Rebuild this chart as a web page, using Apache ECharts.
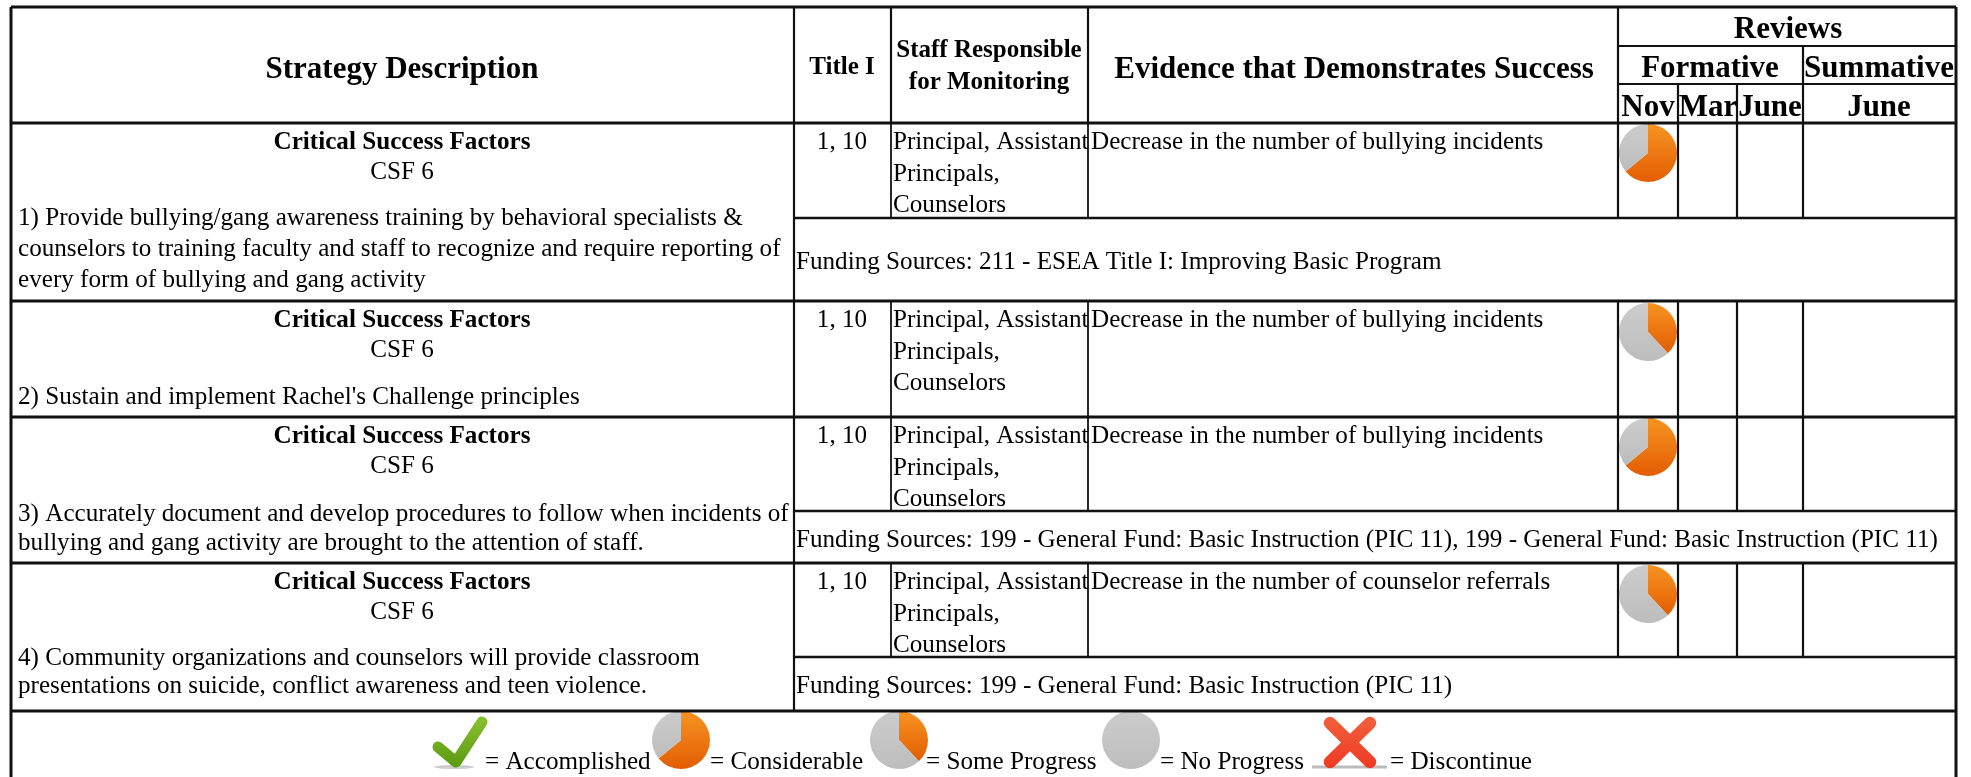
<!DOCTYPE html>
<html><head><meta charset="utf-8"><style>html,body{margin:0;padding:0;background:#fff}#c{width:1971px;height:777px;filter:blur(0.45px)}</style>
<script src="https://cdn.jsdelivr.net/npm/echarts@6/dist/echarts.min.js"></script></head>
<body><div id="c"></div><script>
// ---- content ----
const headerStrategy = "Strategy Description";
const headerTitle = "Title I";
const headerStaff = ["Staff Responsible", "for Monitoring"];
const headerEvidence = "Evidence that Demonstrates Success";
const headerReviews = "Reviews";
const headerFormative = "Formative";
const headerSummative = "Summative";
const headerMonths = ["Nov", "Mar", "June", "June"];
const csfTitle = "Critical Success Factors";
const csfCodes = ["CSF 6", "CSF 6", "CSF 6", "CSF 6"];
const strategies = [
  ["1) Provide bullying/gang awareness training by behavioral specialists &", "counselors to training faculty and staff to recognize and require reporting of", "every form of bullying and gang activity"],
  ["2) Sustain and implement Rachel's Challenge principles"],
  ["3) Accurately document and develop procedures to follow when incidents of", "bullying and gang activity are brought to the attention of staff."],
  ["4) Community organizations and counselors will provide classroom", "presentations on suicide, conflict awareness and teen violence."]
];
const titleOne = ["1, 10", "1, 10", "1, 10", "1, 10"];
const staff = ["Principal, Assistant", "Principals,", "Counselors"];
const evidence = ["Decrease in the number of bullying incidents", "Decrease in the number of bullying incidents", "Decrease in the number of bullying incidents", "Decrease in the number of counselor referrals"];
const funding = ["Funding Sources: 211 - ESEA Title I: Improving Basic Program", null, "Funding Sources: 199 - General Fund: Basic Instruction (PIC 11), 199 - General Fund: Basic Instruction (PIC 11)", "Funding Sources: 199 - General Fund: Basic Instruction (PIC 11)"];
const novProgress = [64, 38, 64, 38];
const legendLabels = ["= Accomplished", "= Considerable", "= Some Progress", "= No Progress", "= Discontinue"];
const legendProgress = [null, 64, 38, 0, null];

// ---- layout ----
const X = {l:11, a:794, b:891, c:1088, d:1618, e:1678, f:1737, g:1803, r:1956};
const Y = {t:7, h1:46, h2:84, h:123, bottom:777, leg:711};
const rowTop = [123, 301, 417, 563];
const rowSplit = [218, null, 511, 657];
const rowBottom = [301, 417, 563, 711];
const fontFamily = '"Liberation Serif","Times New Roman",serif';
const bodySize = 25.15, headSize = 31;
const lineW = 2.2, ink = '#111';
const pieR = 29;

const g = [];
function ln(x1,y1,x2,y2,w){ g.push({type:'line',silent:true,z:5,shape:{x1,y1,x2,y2},style:{stroke:ink,lineWidth:w||lineW}}); }
function tx(t,x,y,o){ o=o||{};
  g.push({type:'text',silent:true,z:6,x,y:y+2.5,style:{text:t,fill:'#000',align:o.align||'left',verticalAlign:'middle',
    font:(o.bold?'bold ':'')+(o.size||bodySize)+'px '+fontFamily}});
}
// table frame
ln(X.l,Y.t,X.r,Y.t,3); ln(X.l,Y.t,X.l,Y.bottom,3); ln(X.r,Y.t,X.r,Y.bottom,3);
ln(X.l,Y.h,X.r,Y.h,3);
ln(X.d,Y.h1,X.r,Y.h1); ln(X.d,Y.h2,X.r,Y.h2);
ln(X.a,Y.t,X.a,Y.leg); ln(X.b,Y.t,X.b,Y.h); ln(X.c,Y.t,X.c,Y.h); ln(X.d,Y.t,X.d,Y.h);
ln(X.g,Y.h1,X.g,Y.h); ln(X.e,Y.h2,X.e,Y.h); ln(X.f,Y.h2,X.f,Y.h);
rowTop.forEach((top,i)=>{
  const split = rowSplit[i], bot = rowBottom[i], inner = split||bot;
  ln(X.l,bot,X.r,bot,3);
  if(split) ln(X.a,split,X.r,split,2.6);
  ln(X.b,top,X.b,inner,1.8); ln(X.c,top,X.c,inner,1.8);
  [X.d,X.e,X.f,X.g].forEach(x=>ln(x,top,x,inner));
});
// headers
tx(headerStrategy,402,67,{bold:1,size:headSize,align:'center'});
tx(headerTitle,842,65,{bold:1,size:25,align:'center'});
tx(headerStaff[0],989,48,{bold:1,size:25,align:'center'});
tx(headerStaff[1],989,80,{bold:1,size:25,align:'center'});
tx(headerEvidence,1354,67,{bold:1,size:headSize,align:'center'});
tx(headerReviews,1788,27,{bold:1,size:headSize,align:'center'});
tx(headerFormative,1710,66,{bold:1,size:headSize,align:'center'});
tx(headerSummative,1879,66,{bold:1,size:headSize,align:'center'});
[1648,1708,1770,1879].forEach((x,i)=>tx(headerMonths[i],x,105,{bold:1,size:headSize,align:'center'}));
// rows
const stratY = [[216,247,278],[395],[512,541],[656,684]];
const fundY = [260,null,538,684];
rowTop.forEach((top,i)=>{
  tx(csfTitle,402,top+17,{bold:1,align:'center'});
  tx(csfCodes[i],402,top+47,{align:'center'});
  strategies[i].forEach((s,j)=>tx(s,18,stratY[i][j]));
  tx(titleOne[i],842,top+17,{align:'center'});
  staff.forEach((s,j)=>tx(s,893,top+17+j*31.5));
  tx(evidence[i],1091,top+17);
  if(funding[i]) tx(funding[i],796,fundY[i]);
});
// legend text + drawn icons
const legendX = [485,710,926,1160,1390];
legendLabels.forEach((s,i)=>tx(s,legendX[i],760));
g.push({type:'ellipse',silent:true,z:2,shape:{cx:454,cy:767,rx:20,ry:2},style:{fill:'#ccc'}});
g.push({type:'polyline',silent:true,z:3,shape:{points:[[438,747],[456,762],[482,722]]},
  style:{fill:null,lineWidth:11,lineCap:'round',lineJoin:'round',stroke:{type:'linear',x:0,y:0,x2:0,y2:1,colorStops:[{offset:0,color:'#8cc030'},{offset:1,color:'#5a9a10'}]}}});
g.push({type:'line',silent:true,z:2,shape:{x1:1312,y1:767,x2:1387,y2:767},style:{stroke:'#bbb',lineWidth:3}});
const xStops=[{offset:0,color:'#f2603c'},{offset:1,color:'#ee3a22'}];
[[1330,723,1370,762],[1370,723,1330,762]].forEach(p=>g.push({type:'line',silent:true,z:3,shape:{x1:p[0],y1:p[1],x2:p[2],y2:p[3]},
  style:{stroke:{type:'linear',x:0,y:0,x2:0,y2:1,colorStops:xStops},lineWidth:12.5,lineCap:'round'}}));

// pies
const orange={type:'linear',x:0,y:0,x2:0,y2:1,colorStops:[{offset:0,color:'#f79422'},{offset:1,color:'#e35d02'}]};
const gray={type:'linear',x:0,y:0,x2:0,y2:1,colorStops:[{offset:0,color:'#cccccc'},{offset:1,color:'#bdbdbd'}]};
function pie(v,cx,cy){
  return {type:'pie',silent:true,animation:false,center:[cx,cy],radius:[0,pieR],startAngle:90,clockwise:true,z:4,
    label:{show:false},labelLine:{show:false},emphasis:{disabled:true},
    data:[{value:v,itemStyle:{color:orange}},{value:100-v,itemStyle:{color:gray}}]};
}
const series=[];
const pieCY=[153,332,447,594];
novProgress.forEach((v,i)=>series.push(pie(v,1648,pieCY[i])));
const legPieX=[null,681,899,1131,null];
legendProgress.forEach((v,i)=>{ if(v!==null) series.push(pie(v,legPieX[i],740)); });

const chart=echarts.init(document.getElementById('c'),null,{renderer:'canvas',width:1971,height:777});
chart.setOption({animation:false,backgroundColor:'#fff',graphic:{elements:g},series});
</script></body></html>
